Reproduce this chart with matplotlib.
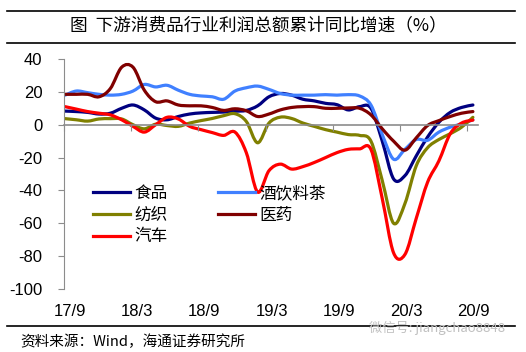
import numpy as np
import matplotlib.pyplot as plt
from matplotlib.path import Path
from matplotlib.patches import PathPatch
from matplotlib.lines import Line2D

plt.rcParams['font.family'] = ['Liberation Sans', 'Noto Sans CJK SC', 'DejaVu Sans']
plt.rcParams['axes.unicode_minus'] = False
cjk = ['Noto Sans CJK SC', 'DejaVu Sans']

# monthly cumulative yoy, 2017/9 .. 2020/9
tick_labels = ['17/9', '18/3', '18/9', '19/3', '19/9', '20/3', '20/9']

food = [8.3, 8, 7.5, 6.5, 7, 10, 12, 9, 4, 3, 5, 6.5, 7.2, 7.5, 7.7, 8.2, 8.7, 11.5, 17, 19,
        18, 15.5, 14.5, 13, 12.2, 9, 11, 10, -10, -33, -31, -19, -7.5, 1.5, 7.5, 10.5, 12]
drinks = [18, 20.5, 19.5, 18.5, 18, 18.5, 20.5, 24.5, 23, 24, 21, 18.5, 17.5, 17, 15.5, 20.5, 22.5,
          23.5, 21.5, 19, 18, 18, 18, 18.3, 18, 18.3, 17.5, 12, -6, -21, -15, -9, -9.5, -4.5, -1.5, 0.5, 3]
textile = [3.7, 3, 2.2, 3.5, 3.7, 3.5, 0, -2.5, 0.3, -0.5, -1, 1, 2.5, 3.8, 5.5, 6.7, 2, -11, 1, 4.6,
           3.8, 1, -1, -3, -4.5, -6, -6.5, -10, -34, -60, -48, -25, -14, -9, -5.5, -1.5, 4.5]
pharma = [18.5, 18.5, 18.5, 17, 22, 35, 35, 21, 14, 14.5, 12, 11.5, 11.5, 10.5, 8.7, 9.7, 8.5, 5, 6.5, 9,
          10.5, 11, 11, 10, 10, 10.2, 10, 6, -2.5, -10, -15.5, -8, -0.5, 2.5, 5, 7, 8]
auto = [11, 9.5, 8, 7, 6, 3, -1, -4.5, 0, 4.5, 3.5, -1, -3, -4.8, -6.5, -4.5, -17, -41, -28, -24,
        -27, -25.5, -23, -20, -17, -15, -14.7, -15, -45, -78, -79, -57, -35, -22, -5.5, 1, 2.8]

series = [('食品', food, '#000080'),
          ('酒饮料茶', drinks, '#4080FF'),
          ('纺织', textile, '#808000'),
          ('医药', pharma, '#800000'),
          ('汽车', auto, '#FF0000')]


def smooth_path(x, y):
    # excel-like smoothed line: catmull-rom converted to cubic bezier
    pts = np.column_stack([x, y]).astype(float)
    p = np.vstack([pts[0], pts, pts[-1]])
    verts = [pts[0]]
    codes = [Path.MOVETO]
    for i in range(1, len(p) - 2):
        c1 = p[i] + (p[i + 1] - p[i - 1]) / 6
        c2 = p[i + 1] - (p[i + 2] - p[i]) / 6
        verts += [c1, c2, p[i + 1]]
        codes += [Path.CURVE4] * 3
    return Path(verts, codes)


fig = plt.figure(figsize=(5.26, 3.52), dpi=100)
ax = fig.add_axes([64 / 526, 1 - 289 / 352, 414 / 526, 230 / 352])

x = np.arange(len(food))
handles = {}
for name, vals, col in series:
    ax.add_patch(PathPatch(smooth_path(x, vals), facecolor='none', edgecolor=col, lw=2.3,
                           capstyle='round', joinstyle='round'))
    handles[name] = Line2D([], [], color=col, lw=2.3)

ax.set_xlim(-0.09, 36.45)
ax.set_ylim(-100, 40)
ax.set_yticks(np.arange(-100, 41, 20))

ax.spines['top'].set_visible(False)
ax.spines['right'].set_visible(False)
ax.spines['left'].set_color('#8c8c8c')
ax.spines['bottom'].set_position(('data', 0))
ax.spines['bottom'].set_color('#8c8c8c')
ax.spines['bottom'].set_linewidth(1.2)

ticks = np.linspace(-0.09, 35.5, 7)
ax.set_xticks(ticks)
ax.tick_params(axis='x', direction='out', length=4, color='#8c8c8c', labelbottom=False)
ax.tick_params(axis='y', direction='out', length=4, color='#8c8c8c', pad=11.5, labelsize=12)
for t, lab in zip(ticks, tick_labels):
    ax.text(t + 0.53, -0.096, lab, transform=ax.get_xaxis_transform(), ha='center', va='center',
            fontsize=12)

order = ['食品', '纺织', '汽车', '酒饮料茶', '医药']
ax.legend([handles[n] for n in order], order, ncol=2, loc='upper left',
          bbox_to_anchor=(0.07, 0.452), frameon=False, borderpad=0, borderaxespad=0,
          handlelength=2.2, handletextpad=0.3, columnspacing=3.0, labelspacing=0.28,
          prop={'family': cjk, 'size': 12})

# title block and frame lines
for yy in [11, 43, 326]:
    fig.add_artist(Line2D([7 / 526, 515 / 526], [1 - yy / 352] * 2, color='black', lw=1.2))
fig.text(70 / 526, 1 - 25 / 352, '图  下游消费品行业利润总额累计同比增速（%）', family=cjk,
         fontsize=12.7, ha='left', va='center')
fig.text(20 / 526, 1 - 342 / 352, '资料来源：Wind，海通证券研究所', family=cjk, fontsize=10.5,
         ha='left', va='center')
fig.text(505 / 526, 1 - 328 / 352, '微信号: jiangchao8848', family=cjk, fontsize=9.5,
         color='#c0c0c0', ha='right', va='center')

fig.savefig('out.png', dpi=100)
